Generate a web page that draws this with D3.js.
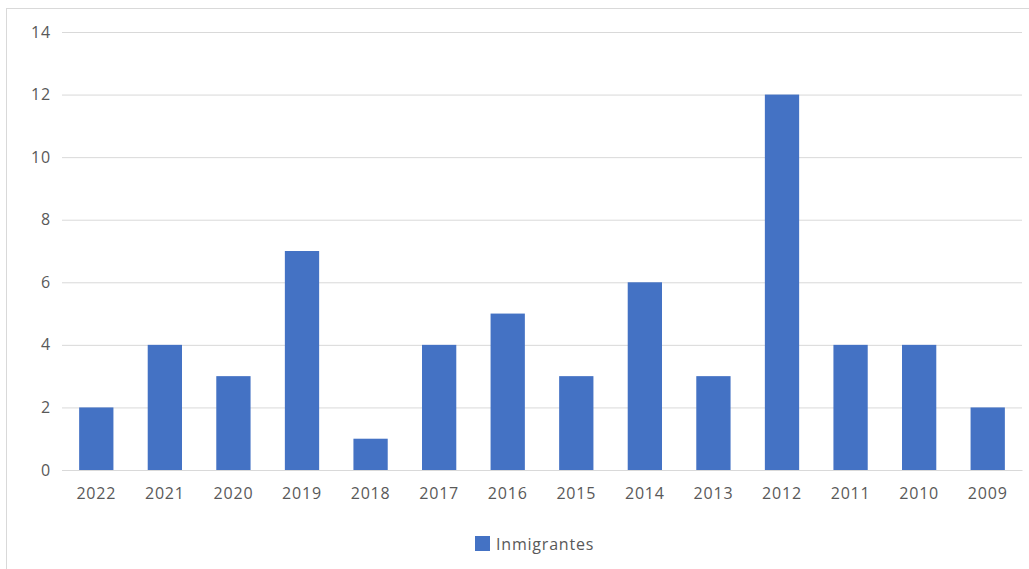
<!DOCTYPE html>
<html><head><meta charset="utf-8">
<script src="https://cdn.jsdelivr.net/npm/d3@7"></script>
<style>body{margin:0;background:#fff}svg{display:block}</style>
</head><body>
<svg id="c" width="1029" height="569"></svg>
<script>
const categories = ["2022","2021","2020","2019","2018","2017","2016","2015","2014","2013","2012","2011","2010","2009"];
const values = [2,4,3,7,1,4,5,3,6,3,12,4,4,2];
const yTicks = [0,2,4,6,8,10,12,14];
const seriesName = "Inmigrantes";

const svg = d3.select("#c");
const font = "'Open Sans', sans-serif";
const txt = "#595959";
svg.append("rect").attr("x",6.5).attr("y",8.5).attr("width",1030).attr("height",580)
  .attr("fill","#fff").attr("stroke","#d9d9d9");

const m = {l:62, r:1022, t:32, b:470};
const x = d3.scaleBand().domain(categories).range([m.l,m.r]).paddingInner(0.5).paddingOuter(0.25);
const y = d3.scaleLinear().domain([0,14]).range([m.b,m.t]);

const gy = svg.append("g").attr("transform",`translate(${m.l},0)`)
  .call(d3.axisLeft(y).tickValues(yTicks).tickSize(-(m.r-m.l)).tickPadding(11));
gy.select(".domain").remove();
gy.selectAll("line").attr("stroke","#d9d9d9");
gy.selectAll("text").attr("fill",txt).style("font-family",font).style("font-size","16px").style("letter-spacing","0.8px");

svg.append("g").selectAll("rect").data(values).join("rect")
  .attr("x",(d,i)=>x(categories[i])).attr("width",x.bandwidth())
  .attr("y",d=>y(d)).attr("height",d=>y(0)-y(d)).attr("fill","#4472C4");

const gx = svg.append("g").attr("transform",`translate(0,${m.b})`)
  .call(d3.axisBottom(x).tickSize(0).tickPadding(18));
gx.select(".domain").attr("stroke","#d9d9d9");
gx.selectAll("text").attr("fill",txt).style("font-family",font).style("font-size","16px").style("letter-spacing","0.8px");

const lg = svg.append("g");
lg.append("rect").attr("x",475).attr("y",536).attr("width",15).attr("height",15).attr("fill","#4472C4");
lg.append("text").attr("x",496).attr("y",550).text(seriesName)
  .attr("fill",txt).style("font-family",font).style("font-size","16px").style("letter-spacing","0.8px");
</script>
</body></html>
